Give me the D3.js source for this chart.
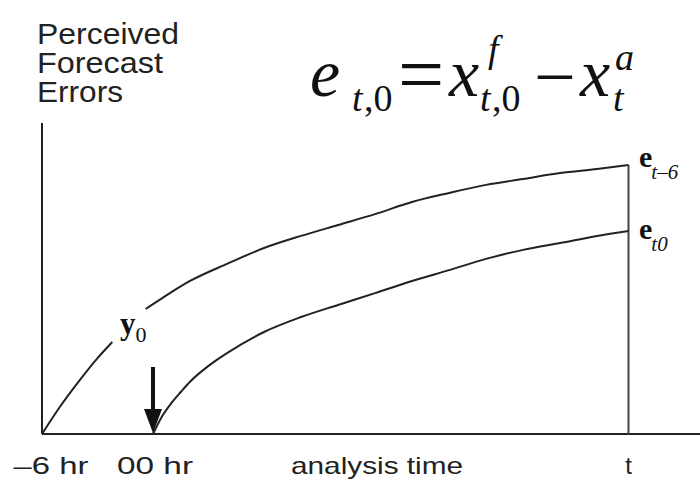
<!DOCTYPE html>
<html lang="en">
<head>
<meta charset="UTF-8" />
<script src="https://d3js.org/d3.v7.min.js"></script>
<title>Perceived Forecast Errors</title>
<style>
  body { margin: 0; background: #fff; }
  .sans { font-family: "Liberation Sans", Arial, sans-serif; fill: #222; }
  .serif { font-family: "Liberation Serif", "Times New Roman", serif; fill: #111; }
</style>
</head>
<body>
<svg id="chart" width="700" height="486"></svg>
<script>
// time axis in hours (-6 hr = previous cycle, 0 = 00 hr analysis, t = verifying time)
var tEnd = 25.7
var tickHours = [-6, 0, tEnd]
var tickLabels = ["\u20136 hr", "00 hr", "t"]

// forecast started at -6 hr (e t,-6); gap around the y0 label
var upperHours = [-6, -5, -4, -3, -2.2, -0.4, 0.5, 2, 4, 6, 8, 10, 12, 14, 16, 18, 20, 22, 24, tEnd]
var upperErr   = [0, 0.9, 1.7, 2.44, 2.96, 4.02, 4.37, 4.92, 5.47, 5.98, 6.37, 6.72, 7.07, 7.46, 7.75, 8.01, 8.2, 8.39, 8.52, 8.65]
var gapFrom = -2.2, gapTo = -0.4

// forecast started at 00 hr (e t,0)
var lowerHours = [0, 0.5, 1, 1.5, 2, 3, 4, 6, 8, 10, 12, 14, 16, 18, 20, 22, 24, tEnd]
var lowerErr   = [0, 0.58, 1.0, 1.35, 1.68, 2.19, 2.6, 3.28, 3.76, 4.15, 4.53, 4.92, 5.27, 5.63, 5.92, 6.14, 6.37, 6.53]

var svg = d3.select("#chart")

var x = d3.scaleLinear().domain([-6, tEnd]).range([42, 628.5])
var y = d3.scaleLinear().domain([0, 10]).range([434, 123])

var line = d3.line()
  .x(function(d){ return x(d[0]) })
  .y(function(d){ return y(d[1]) })
  .curve(d3.curveMonotoneX)

var upper = upperHours.map(function(h, i){ return [h, upperErr[i]] })
var lower = lowerHours.map(function(h, i){ return [h, lowerErr[i]] })

// axes
svg.append("line")
  .attr("x1", x(-6)).attr("x2", x(-6))
  .attr("y1", y(0)).attr("y2", y(10))
  .attr("stroke", "#222").attr("stroke-width", 2)
svg.append("line")
  .attr("x1", x(-6)).attr("x2", 700)
  .attr("y1", y(0)).attr("y2", y(0))
  .attr("stroke", "#222").attr("stroke-width", 2)

// vertical line at t
svg.append("line")
  .attr("x1", x(tEnd)).attr("x2", x(tEnd))
  .attr("y1", y(upperErr[upperErr.length - 1])).attr("y2", y(0))
  .attr("stroke", "#444").attr("stroke-width", 2)

// curves
var g = svg.append("g").attr("fill", "none").attr("stroke", "#222").attr("stroke-width", 2)
g.append("path").attr("d", line(upper.filter(function(d){ return d[0] <= gapFrom })))
g.append("path").attr("d", line(upper.filter(function(d){ return d[0] >= gapTo })))
g.append("path").attr("d", line(lower))

// arrow at 00 hr
var ax = x(0)
svg.append("line")
  .attr("x1", ax).attr("x2", ax)
  .attr("y1", 367).attr("y2", 414)
  .attr("stroke", "#111").attr("stroke-width", 4)
svg.append("path")
  .attr("d", "M" + (ax - 9) + ",409 L" + (ax + 9) + ",409 L" + ax + "," + (y(0) - 1) + "Z")
  .attr("fill", "#111")

// tick labels
var tickOffset = [9, 2, 0]
var tickWidth = [75, 76, null]
svg.selectAll(".tick")
  .data(tickHours)
  .enter().append("text")
  .attr("class", "sans tick")
  .attr("x", function(d, i){ return x(d) + tickOffset[i] })
  .attr("y", 474)
  .attr("text-anchor", "middle")
  .attr("font-size", 24)
  .attr("textLength", function(d, i){ return tickWidth[i] })
  .attr("lengthAdjust", "spacingAndGlyphs")
  .text(function(d, i){ return tickLabels[i] })

svg.append("text")
  .attr("class", "sans")
  .attr("x", 291).attr("y", 474)
  .attr("font-size", 24)
  .attr("textLength", 172).attr("lengthAdjust", "spacingAndGlyphs")
  .text("analysis time")

// y axis title
var titleLines = ["Perceived", "Forecast", "Errors"]
var titleWidth = [142, 126, 86]
svg.selectAll(".ytitle")
  .data(titleLines)
  .enter().append("text")
  .attr("class", "sans ytitle")
  .attr("x", 37)
  .attr("y", function(d, i){ return 44 + i * 29 })
  .attr("font-size", 29)
  .attr("textLength", function(d, i){ return titleWidth[i] })
  .attr("lengthAdjust", "spacingAndGlyphs")
  .text(function(d){ return d })

// y0 label
var y0 = svg.append("text").attr("class", "serif").attr("x", 120).attr("y", 334)
y0.append("tspan").attr("font-size", 31).attr("font-weight", "bold").text("y")
y0.append("tspan").attr("font-size", 22).attr("dy", 8).text("0")

// curve end labels
function endLabel(yy, sub) {
  var t = svg.append("text").attr("class", "serif").attr("x", 639).attr("y", yy)
  t.append("tspan").attr("font-size", 30).attr("font-weight", "bold").text("e")
  t.append("tspan").attr("font-size", 21).attr("font-style", "italic").attr("dx", -1).attr("dy", 12).text(sub)
}
endLabel(167, "t\u20136")
endLabel(239, "t0")

// equation e t,0 = x f t,0 - x a t
var eq = svg.append("g").attr("class", "serif")
function put(txt, px, py, size, italic) {
  eq.append("text")
    .attr("x", px).attr("y", py)
    .attr("font-size", size)
    .attr("font-style", italic ? "italic" : "normal")
    .text(txt)
}
put("e", 310, 96, 68, true)
put("t", 352, 111, 38, true)
put(",0", 364, 111, 38, false)
put("=", 398, 102, 82, false)
put("x", 449, 96, 68, true)
put("f", 488, 62, 38, true)
put("t", 480, 111, 38, true)
put(",0", 492, 111, 38, false)
put("\u2212", 534, 102, 74, false)
put("x", 580, 96, 68, true)
put("a", 615, 70, 38, true)
put("t", 613, 111, 38, true)
</script>
</body>
</html>
